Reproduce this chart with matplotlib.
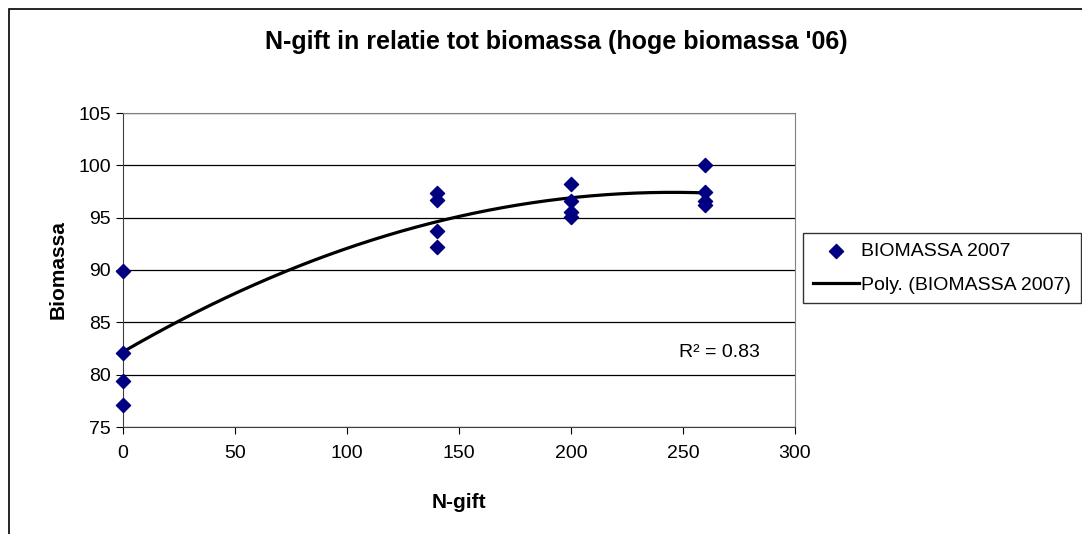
import numpy as np
import matplotlib.pyplot as plt
from matplotlib.patches import Rectangle

plt.rcParams['font.family'] = ['Liberation Sans', 'DejaVu Sans']

# data
n_gift = [0, 0, 0, 0, 140, 140, 140, 140, 200, 200, 200, 200, 260, 260, 260, 260]
biomassa = [89.9, 82.1, 79.4, 77.1,
            97.4, 96.7, 93.7, 92.2,
            98.2, 96.6, 95.5, 95.1,
            100.0, 97.5, 96.6, 96.2]
r2_label = "R\u00b2 = 0.83"

W, H = 1082, 534
fig = plt.figure(figsize=(W / 100, H / 100), dpi=100)
ax = fig.add_axes([123 / W, 1 - 427 / H, (795 - 123) / W, (427 - 113) / H])

# outer chart border (cropped on right/bottom like the reference)
fig.patches.append(Rectangle((9 / W, -0.05), 1.2, 1 - 9 / H + 0.05,
                             transform=fig.transFigure, fill=False,
                             edgecolor='black', linewidth=1.2))

ax.scatter(n_gift, biomassa, marker='D', s=52, color='#000080',
           zorder=4, label='BIOMASSA 2007', clip_on=False)

# polynomial trend line (order 2)
coef = np.polyfit(n_gift, biomassa, 2)
xs = np.linspace(0, 260, 200)
ax.plot(xs, np.polyval(coef, xs), color='black', linewidth=2.3,
        zorder=3, label='Poly. (BIOMASSA 2007)')

ax.set_xlim(0, 300)
ax.set_ylim(75, 105)
ax.set_xticks(range(0, 301, 50))
ax.set_yticks(range(75, 106, 5))
ax.yaxis.grid(True, color='black', linewidth=0.9)
ax.set_axisbelow(True)
for side in ['top', 'right']:
    ax.spines[side].set_color('#808080')
ax.spines['left'].set_color('#404040')
ax.spines['bottom'].set_color('#404040')
ax.tick_params(axis='both', labelsize=14, length=5, direction='out')
ax.tick_params(axis='x', pad=8)

ax.set_xlabel('N-gift', fontsize=15, fontweight='bold', labelpad=22)
ax.set_ylabel('Biomassa', fontsize=15, fontweight='bold', labelpad=8)
fig.text(556 / W, 1 - 42 / H, "N-gift in relatie tot biomassa (hoge biomassa '06)",
         ha='center', va='center', fontsize=18, fontweight='bold')

ax.text(248, 82.1, r2_label, fontsize=14, ha='left', va='center')

leg = ax.legend(loc='upper left', bbox_to_anchor=(803 / W, 1 - 233 / H),
                bbox_transform=fig.transFigure, borderaxespad=0,
                fontsize=14, frameon=True, fancybox=False, handlelength=2.4,
                handletextpad=0.1, borderpad=0.5, labelspacing=0.8)
leg.get_frame().set_edgecolor('black')
leg.get_frame().set_linewidth(1.0)

fig.savefig('out.png', dpi=100)
